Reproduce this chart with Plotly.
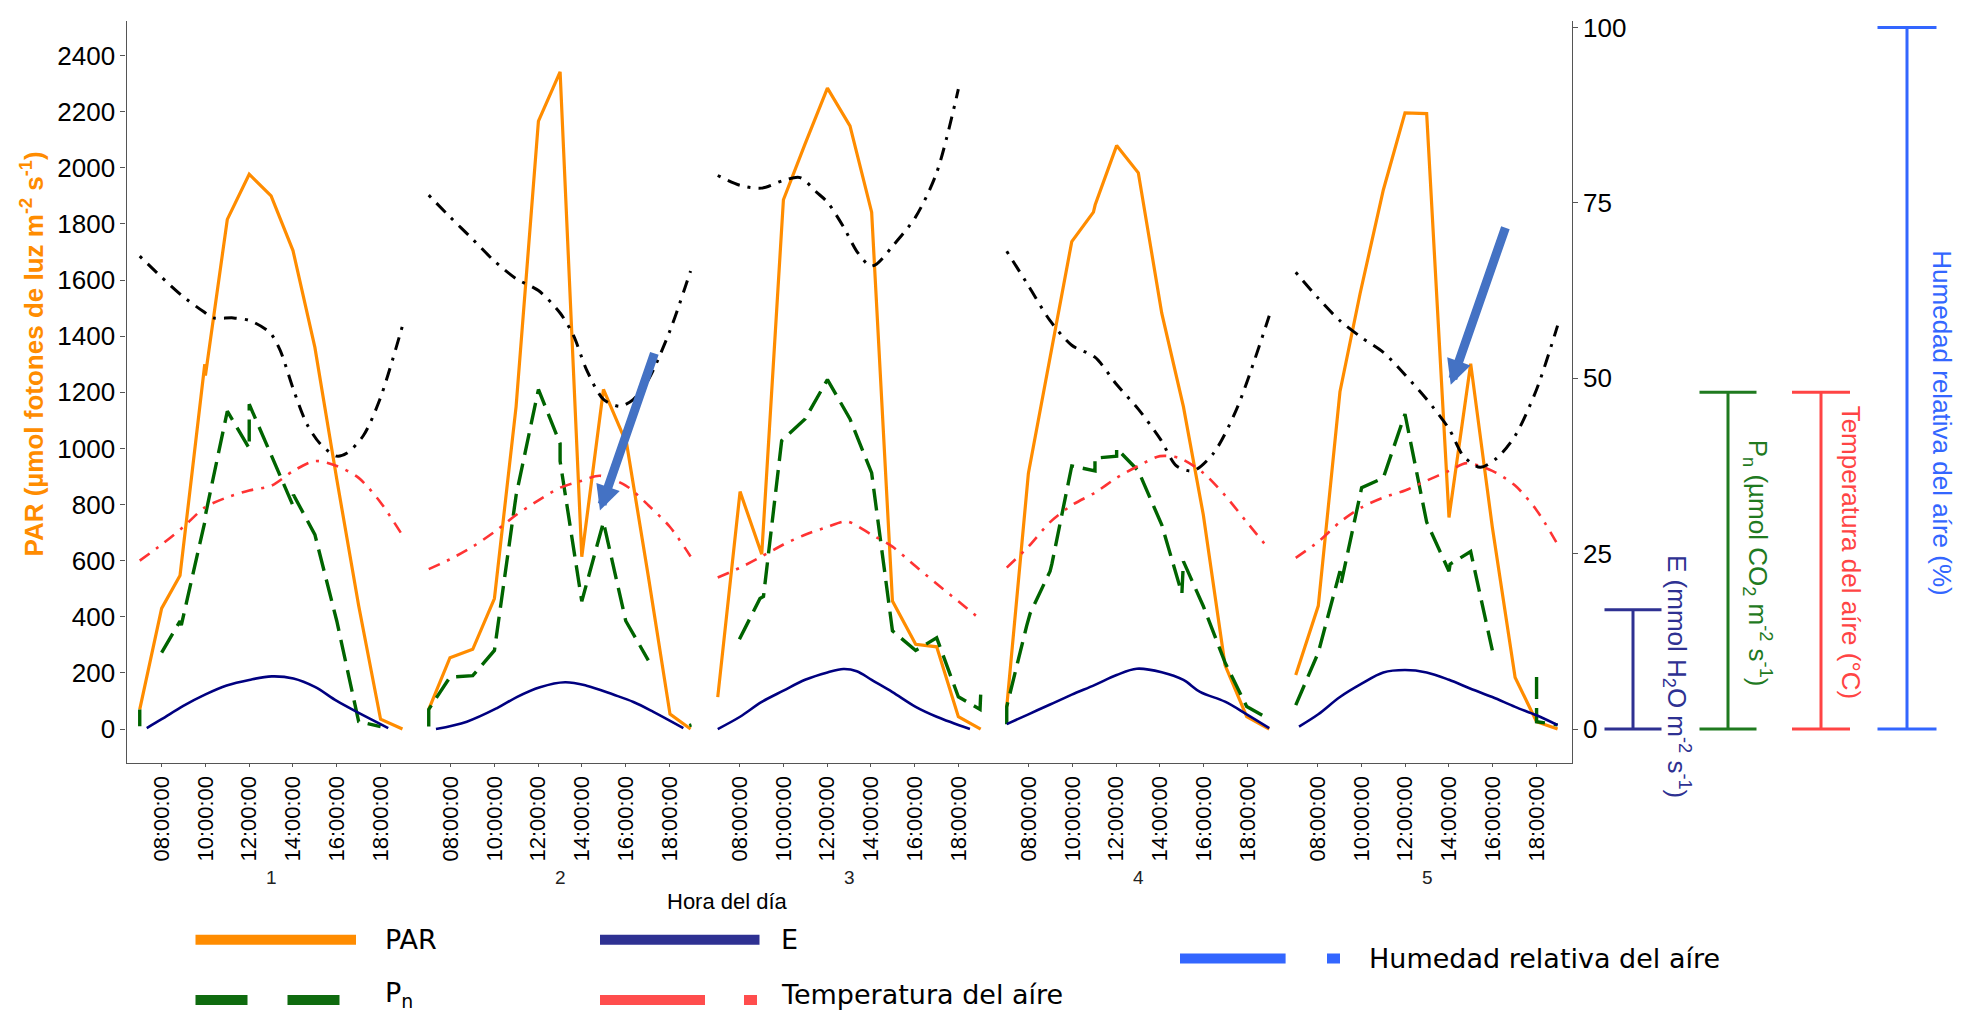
import plotly.graph_objects as go

# ---------------------------------------------------------------- data
days = ["1", "2", "3", "4", "5"]
tick_hours = [8, 10, 12, 14, 16, 18]
tick_text = ["08:00:00", "10:00:00", "12:00:00", "14:00:00", "16:00:00", "18:00:00"]
par_ticks = [0, 200, 400, 600, 800, 1000, 1200, 1400, 1600, 1800, 2000, 2200, 2400]
right_ticks = [0, 25, 50, 75, 100]
PAR_PER_RIGHT_UNIT = 25  # secondary axis = PAR / 25

# PAR (umol m-2 s-1) per day
par_hours = [
    [7.0, 8.0, 8.84, 9.97, 10.0, 11.0, 12.0, 13.0, 14.0, 15.0, 16.0, 17.0, 18.0, 19.0],
    [7.0, 7.97, 9.01, 10.0, 10.99, 12.01, 13.0, 13.99, 14.98, 16.04, 17.03, 18.02, 18.96],
    [7.0, 8.02, 9.01, 10.0, 10.99, 12.01, 13.04, 14.03, 14.98, 16.04, 17.0, 17.99, 19.01],
    [7.0, 7.99, 9.97, 10.96, 11.04, 12.02, 13.01, 14.08, 15.07, 15.98, 16.97, 17.96, 18.99],
    [7.0, 8.03, 9.02, 9.94, 11.0, 11.99, 12.98, 14.0, 14.99, 15.98, 17.02, 18.0, 18.96],
]
par_values = [
    [70, 430, 547, 1300, 1260, 1816, 1977, 1900, 1705, 1360, 890, 439, 35, 0],
    [70, 254, 284, 465, 1149, 2166, 2342, 614, 1210, 1017, 544, 53, 0],
    [114, 846, 623, 1886, 2085, 2284, 2149, 1842, 456, 302, 293, 44, 0],
    [79, 912, 1737, 1842, 1868, 2079, 1982, 1482, 1149, 763, 228, 44, 0],
    [193, 439, 1202, 1552, 1921, 2196, 2193, 754, 1302, 719, 184, 26, 0],
]

# Net photosynthesis Pn (umol CO2 m-2 s-1); None marks missing readings
pn_hours = [
    [7.0, 7.0, 7.5, 8.0, 8.84, 8.9, 9.97, 10.0, 11.0, 12.0, 12.0, 13.98, 14.02, 15.0, 16.0, 17.0, 18.0],
    [7.0, 7.0, 7.97, 9.01, 10.0, 10.99, 12.01, 13.0, 13.0, 13.99, 14.98, 16.0, 17.03, 18.0, 18.9, 19.0],
    [7.99, 8.93, 9.09, 9.92, 10.99, 12.01, 13.04, 14.03, 14.98, 16.04, 17.0, 17.99, 18.98, 19.01],
    [7.0, 7.0, 7.91, 8.07, 8.98, 9.06, 9.97, 11.03, 11.03, 12.02, 12.02, 13.01, 14.08, 15.0, 15.07,
     15.98, 16.97, 17.96, 18.99],
    [7.0, 8.03, 9.02, 9.07, 10.01, 11.0, 11.99, 12.98, 14.0, 14.05, 14.99, 15.98, 17.0, 18.0, 18.0, 18.96],
]
pn_values = [
    [0.4, 2.8, None, 10.9, 15.4, 14.8, 29.5, 30.5, 45.3, 40.0, 46.3, 32.0, 33.4, 27.7, 15.4, 1.05, 0.35],
    [0.35, 2.8, 7.4, 7.6, 11.2, 33.3, 48.4, 40.7, 38.2, 18.2, 29.5, 15.4, 9.8, None, 0.5, 0.6],
    [12.8, 18.6, 18.9, 41.1, 44.2, 49.8, 44.2, 36.5, 14.0, 11.2, 13.0, 4.6, 2.8, 4.9],
    [0.7, 3.2, 14.7, 16.5, 22.5, 23.5, 37.5, 36.8, 38.6, 38.9, 40.0, 36.8, 29.1, 19.3, 23.9,
     17.5, 9.5, 3.2, 1.4],
    [3.4, 10.9, 22.5, 20.7, 34.4, 35.8, 44.9, 29.5, 22.5, 23.5, 25.3, 11.2, None, 7.4, 1.05, 0.6],
]

# Transpiration E (mmol H2O m-2 s-1)
e_hours = [
    [7.32, 8.0, 8.99, 9.98, 10.97, 12.0, 13.03, 14.02, 15.0, 16.0, 17.0, 18.35],
    [7.33, 8.74, 10.1, 11.02, 12.08, 13.23, 14.21, 15.43, 16.35, 17.26, 18.63],
    [7.0, 8.02, 9.01, 10.0, 10.99, 12.01, 12.74, 13.35, 14.03, 14.98, 16.04, 17.0, 18.52],
    [7.0, 7.99, 8.98, 9.97, 11.03, 12.02, 12.94, 14.08, 15.07, 15.83, 16.97, 17.96, 18.99],
    [7.15, 8.03, 9.02, 10.01, 11.0, 11.99, 12.98, 14.0, 14.99, 15.98, 17.02, 18.0, 18.96],
]
e_values = [
    [0.14, 1.4, 3.3, 4.9, 6.2, 7.0, 7.5, 7.2, 6.0, 4.0, 2.3, 0.14],
    [0.0, 1.05, 2.95, 4.56, 5.96, 6.67, 6.18, 4.91, 3.86, 2.46, 0.14],
    [0.0, 1.75, 3.86, 5.47, 7.02, 8.07, 8.56, 8.25, 7.0, 5.26, 3.16, 1.75, 0.0],
    [0.7, 2.1, 3.5, 4.9, 6.3, 7.7, 8.6, 8.1, 7.0, 5.3, 3.9, 2.1, 0.14],
    [0.35, 2.1, 4.56, 6.46, 8.07, 8.42, 8.07, 7.02, 5.75, 4.56, 3.16, 1.96, 0.56],
]

# Air temperature (deg C)
temp_hours = [
    [7.0, 8.0, 8.99, 9.98, 10.97, 12.0, 13.03, 14.02, 15.0, 16.0, 17.0, 18.0, 19.04],
    [7.0, 7.97, 9.01, 10.0, 10.99, 12.01, 13.0, 13.99, 14.82, 16.0, 17.03, 18.02, 18.96],
    [7.0, 8.02, 9.01, 10.0, 10.99, 12.01, 12.89, 14.03, 14.98, 16.04, 17.0, 17.99, 19.01],
    [7.0, 7.99, 8.98, 9.97, 11.03, 12.02, 13.01, 14.0, 14.91, 15.98, 16.97, 17.96, 18.99],
    [7.0, 8.03, 9.02, 10.01, 11.0, 11.99, 12.98, 14.0, 14.81, 15.98, 17.02, 18.0, 18.96],
]
temp_values = [
    [24.0, 26.3, 28.8, 31.6, 33.0, 34.0, 34.7, 36.8, 38.2, 37.5, 35.8, 32.3, 27.4],
    [22.8, 24.2, 26.0, 28.1, 30.5, 32.6, 34.4, 35.4, 36.1, 34.7, 31.9, 28.8, 24.6],
    [21.6, 23.0, 24.6, 26.3, 27.7, 28.8, 29.6, 27.7, 26.0, 23.2, 20.7, 18.2, 15.6],
    [23.0, 26.0, 29.5, 31.9, 33.7, 35.8, 37.5, 38.9, 38.6, 36.5, 33.3, 29.5, 25.6],
    [24.4, 26.7, 29.5, 31.6, 33.0, 34.0, 35.4, 36.8, 37.9, 36.8, 34.7, 31.2, 26.3],
]

# Relative air humidity (%)
rh_hours = [
    [7.0, 7.93, 8.92, 9.91, 10.36, 11.28, 12.04, 12.95, 13.41, 14.02, 14.63, 15.23, 15.99, 16.45,
     17.21, 17.97, 19.04],
    [7.0, 7.97, 9.01, 10.0, 10.99, 12.01, 13.0, 13.61, 14.21, 14.98, 15.74, 16.35, 17.03, 18.02, 18.96],
    [7.0, 8.02, 9.01, 10.0, 10.76, 11.52, 12.01, 12.74, 13.35, 13.96, 14.26, 14.98, 16.04, 17.0, 17.99],
    [7.0, 7.99, 8.98, 9.97, 11.03, 12.02, 13.01, 14.0, 14.76, 15.52, 16.44, 17.5, 18.99],
    [7.0, 8.03, 9.02, 10.01, 11.0, 11.99, 12.98, 14.0, 14.66, 15.42, 16.18, 17.02, 18.0, 18.96],
]
rh_values = [
    [67.4, 64.6, 61.8, 59.5, 58.6, 58.6, 58.2, 56.5, 54.0, 48.4, 43.5, 40.7, 38.9, 39.3, 41.8, 47.0, 57.9],
    [76.1, 73.0, 69.8, 66.7, 64.2, 62.5, 59.3, 56.1, 51.2, 47.0, 46.0, 47.0, 49.8, 56.8, 65.3],
    [78.9, 77.5, 77.1, 78.2, 78.6, 76.5, 75.1, 71.6, 68.1, 66.0, 66.3, 68.8, 73.0, 79.3, 91.2],
    [68.1, 63.2, 58.2, 54.7, 53.0, 49.1, 45.6, 41.4, 37.5, 36.8, 39.3, 45.6, 58.9],
    [65.1, 61.4, 58.2, 55.8, 53.7, 50.5, 47.0, 42.8, 38.9, 37.3, 38.6, 41.8, 48.4, 57.5],
]

# Unit scale bars drawn beside the secondary axis (secondary-axis units)
scale_bar_tops = [17, 48, 48, 100]

# Highlight arrows (day index, tail/tip in hours and PAR units)
arrow_days = [2, 5]
arrow_tail_hours = [17.33, 16.60]
arrow_tail_par = [1344, 1792]
arrow_tip_hours = [14.82, 14.08]
arrow_tip_par = [779, 1227]

# ---------------------------------------------------------------- style
FIG_W, FIG_H = 1967, 1013
FONT = "Liberation Sans, Arial, sans-serif"
WIDE_FONT = "DejaVu Sans, Liberation Sans, sans-serif"
ORANGE = "#FF8C00"
GREEN = "#006400"
NAVY = "#000080"
RED = "#FF3333"
BLACK = "#000000"
AXIS = "#555555"
E_LBL = "#2E3192"
PN_LBL = "#1F7A1F"
T_LBL = "#FF4444"
RH_LBL = "#3366FF"
ARROW = "#4472C4"

plot_left, panel_w = 126.6, 289.0
plot_top, plot_bottom = 12.4, 760.7
x_range = [6.4, 19.6]
y_range = [-120.8, 2522.0]
y2_range = [v / PAR_PER_RIGHT_UNIT for v in y_range]


def fx(px):
    return px / FIG_W


def fy(py):
    return 1 - py / FIG_H


def note(text, px, py, size, color="black", angle=0, family=FONT, weight="normal", xanchor="center"):
    """Free text placed by figure pixel position."""
    return dict(text=text, x=fx(px), y=fy(py), xref="paper", yref="paper",
                xanchor=xanchor, yanchor="middle", showarrow=False, textangle=angle,
                font=dict(size=size, color=color, family=family, weight=weight))


fig = go.Figure()

for i in range(len(days)):
    xa = "x" if i == 0 else f"x{i + 1}"
    fig.add_trace(go.Scatter(x=par_hours[i], y=par_values[i], xaxis=xa, yaxis="y", mode="lines",
                             line=dict(color=ORANGE, width=3.2), showlegend=False, hoverinfo="skip"))
    fig.add_trace(go.Scatter(x=pn_hours[i], y=pn_values[i], xaxis=xa, yaxis="y2", mode="lines",
                             line=dict(color=GREEN, width=3.4, dash="22px,9px"),
                             connectgaps=False, showlegend=False, hoverinfo="skip"))
    fig.add_trace(go.Scatter(x=e_hours[i], y=e_values[i], xaxis=xa, yaxis="y2", mode="lines",
                             line=dict(color=NAVY, width=2.6, shape="spline", smoothing=1),
                             showlegend=False, hoverinfo="skip"))
    fig.add_trace(go.Scatter(x=temp_hours[i], y=temp_values[i], xaxis=xa, yaxis="y2", mode="lines",
                             line=dict(color=RED, width=2.6, dash="12px,8px,3px,8px",
                                       shape="spline", smoothing=0.8),
                             showlegend=False, hoverinfo="skip"))
    fig.add_trace(go.Scatter(x=rh_hours[i], y=rh_values[i], xaxis=xa, yaxis="y2", mode="lines",
                             line=dict(color=BLACK, width=3.0, dash="3px,8px,13px,8px",
                                       shape="spline", smoothing=0.8),
                             showlegend=False, hoverinfo="skip"))

layout = dict(
    width=FIG_W, height=FIG_H,
    margin=dict(l=0, r=0, t=0, b=0),
    paper_bgcolor="white", plot_bgcolor="white",
    font=dict(family=FONT, color="black"),
    showlegend=False,
)

for i in range(len(days)):
    key = "xaxis" if i == 0 else f"xaxis{i + 1}"
    x0 = plot_left + panel_w * i
    layout[key] = dict(
        domain=[fx(x0), fx(x0 + panel_w)], range=x_range, anchor="y",
        tickmode="array", tickvals=tick_hours, ticktext=tick_text, tickangle=-90,
        tickfont=dict(size=22, color="black", family=FONT),
        showline=True, linecolor=AXIS, linewidth=1.4,
        ticks="outside", ticklen=3, tickcolor=AXIS, tickwidth=1.2,
        showgrid=False, zeroline=False, fixedrange=True,
    )

layout["yaxis"] = dict(
    domain=[fy(plot_bottom), fy(plot_top)], range=y_range, anchor="x", side="left",
    tickmode="array", tickvals=par_ticks, tickfont=dict(size=26, color="black", family=FONT),
    showline=True, linecolor=AXIS, linewidth=1.4,
    ticks="outside", ticklen=5, tickcolor=AXIS, tickwidth=1.2,
    showgrid=False, zeroline=False, fixedrange=True,
)
layout["yaxis2"] = dict(
    overlaying="y", range=y2_range, anchor="x5", side="right",
    tickmode="array", tickvals=right_ticks, tickfont=dict(size=26, color="black", family=FONT),
    showline=True, linecolor=AXIS, linewidth=1.4,
    ticks="outside", ticklen=5, tickcolor=AXIS, tickwidth=1.2,
    showgrid=False, zeroline=False, fixedrange=True,
)
fig.update_layout(**layout)

annotations = []
shapes = []

# facet labels under each panel
for i, d in enumerate(days):
    annotations.append(note(d, plot_left + panel_w * (i + 0.5), 876, 19, "#222222"))

annotations.append(note("Hora del día", 727.6, 901, 22))
annotations.append(note("PAR (µmol fotones de luz m<sup>-2</sup> s<sup>-1</sup>)", 33, 348.6, 26,
                        ORANGE, angle=-90, weight="bold"))

# unit scale bars on the right
bar_x = [1633, 1728, 1821, 1907]
bar_half = [28.5, 28.5, 29, 29.5]
bar_colors = [E_LBL, PN_LBL, T_LBL, RH_LBL]
for bx, hw, top, col in zip(bar_x, bar_half, scale_bar_tops, bar_colors):
    ln = dict(color=col, width=3)
    shapes.append(dict(type="line", xref="paper", yref="y2", x0=fx(bx), x1=fx(bx), y0=0, y1=top, line=ln))
    shapes.append(dict(type="line", xref="paper", yref="y2", x0=fx(bx - hw), x1=fx(bx + hw), y0=0, y1=0, line=ln))
    shapes.append(dict(type="line", xref="paper", yref="y2", x0=fx(bx - hw), x1=fx(bx + hw), y0=top, y1=top, line=ln))

side_labels = [
    ("E (mmol H<sub>2</sub>O m<sup>-2</sup> s<sup>-1</sup>)", 1677.5, 673.5, E_LBL),
    ("P<sub>n</sub> (µmol CO<sub>2</sub> m<sup>-2</sup> s<sup>-1</sup>)", 1758, 558.7, PN_LBL),
    ("Temperatura del aíre (°C)", 1851, 548.5, T_LBL),
    ("Humedad relativa del aíre (%)", 1942, 417, RH_LBL),
]
for txt, lx, ly, col in side_labels:
    annotations.append(note(txt, lx, ly, 26, col, angle=90))

# highlight arrows
for d, th, tp, hh, hp in zip(arrow_days, arrow_tail_hours, arrow_tail_par, arrow_tip_hours, arrow_tip_par):
    xa = f"x{d}"
    annotations.append(dict(x=hh, y=hp, xref=xa, yref="y", ax=th, ay=tp, axref=xa, ayref="y",
                            text="", showarrow=True, arrowhead=2, arrowsize=0.55, arrowwidth=9,
                            arrowcolor=ARROW, standoff=0))

# legend keys
LEG_W = 10
legend_items = [
    ("PAR", ORANGE, 195.5, 356, 939, 939, "solid", 383),
    ("P<sub>n</sub>", "#0F6B0F", 195.5, 340, 1000, 994, "52px,40px", 383),
    ("E", "#2E3192", 600, 759.5, 939, 939, "solid", 779),
    ("Temperatura del aíre", "#FF4D4D", 600, 757, 1000, 994, "105px,39px,13px", 779),
    ("Humedad relativa del aíre", "#3366FF", 1180, 1340, 958, 958, "105.6px,41.4px,13px", 1367),
]
for label, col, x0, x1, yy, ty, dash, tx in legend_items:
    shapes.append(dict(type="line", xref="paper", yref="paper", x0=fx(x0), x1=fx(x1),
                       y0=fy(yy), y1=fy(yy), line=dict(color=col, width=LEG_W, dash=dash)))
    annotations.append(note(label, tx, ty, 27, family=WIDE_FONT, xanchor="left"))

fig.update_layout(annotations=annotations, shapes=shapes)

fig.write_html("out.html")
